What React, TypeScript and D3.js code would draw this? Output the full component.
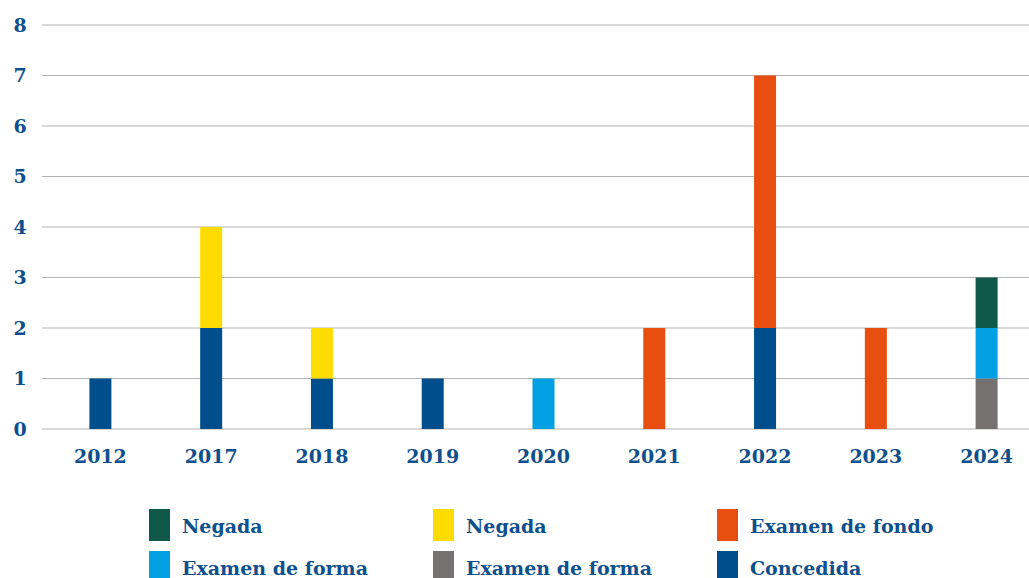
import React from "react";
import * as d3 from "d3";

const years = ["2012", "2017", "2018", "2019", "2020", "2021", "2022", "2023", "2024"];
const concedida = [1, 2, 1, 1, 0, 0, 2, 0, 0];
const formaGris = [0, 0, 0, 0, 0, 0, 0, 0, 1];
const formaAzul = [0, 0, 0, 0, 1, 0, 0, 0, 1];
const fondo = [0, 0, 0, 0, 0, 2, 5, 2, 0];
const negadaAmarilla = [0, 2, 1, 0, 0, 0, 0, 0, 0];
const negadaVerde = [0, 0, 0, 0, 0, 0, 0, 0, 1];
const yTicks = [0, 1, 2, 3, 4, 5, 6, 7, 8];

const series = [
  { key: "concedida", label: "Concedida", values: concedida, color: "#004f8c" },
  { key: "formaGris", label: "Examen de forma", values: formaGris, color: "#767171" },
  { key: "formaAzul", label: "Examen de forma", values: formaAzul, color: "#00a0e3" },
  { key: "fondo", label: "Examen de fondo", values: fondo, color: "#e84e10" },
  { key: "negadaAmarilla", label: "Negada", values: negadaAmarilla, color: "#ffdc00" },
  { key: "negadaVerde", label: "Negada", values: negadaVerde, color: "#10584a" },
];

const legendOrder = ["negadaVerde", "negadaAmarilla", "fondo", "formaAzul", "formaGris", "concedida"];

const W = 1029;
const H = 578;
const textColor = "#0e4f8d";
const font = "'DejaVu Serif', serif";

export default function App() {
  const rows = years.map((y, i) => {
    const r: any = { year: y };
    series.forEach((s) => (r[s.key] = s.values[i]));
    return r;
  });
  const stack = d3.stack().keys(series.map((s) => s.key))(rows as any);

  const x = d3.scaleBand().domain(years).range([45, 1042]).paddingInner(0.8).paddingOuter(0.4);
  const y = d3.scaleLinear().domain([0, 8]).range([429, 25]);
  const barW = 22;

  return (
    <svg width={W} height={H} style={{ position: "absolute", left: 0, top: 0, background: "#fff" }}>
      {yTicks.map((t) => (
        <g key={t}>
          <line x1={42} x2={W} y1={y(t)} y2={y(t)} stroke="#b3b3b3" strokeWidth={1.2} />
          <text x={20} y={y(t)} dy="0.35em" textAnchor="middle" fill={textColor} fontFamily={font} fontWeight="bold" fontSize={19}>
            {t}
          </text>
        </g>
      ))}
      {stack.map((layer, li) =>
        layer.map((d, i) => {
          if (d[1] - d[0] <= 0) return null;
          const cx = (x(years[i]) as number) + x.bandwidth() / 2;
          return (
            <rect
              key={series[li].key + i}
              x={cx - barW / 2}
              y={y(d[1])}
              width={barW}
              height={y(d[0]) - y(d[1])}
              fill={series[li].color}
            />
          );
        })
      )}
      {years.map((yr) => (
        <text
          key={yr}
          x={(x(yr) as number) + x.bandwidth() / 2}
          y={463}
          textAnchor="middle"
          fill={textColor}
          fontFamily={font}
          fontWeight="bold"
          fontSize={19}
        >
          {yr}
        </text>
      ))}
      {legendOrder.map((k, i) => {
        const s = series.find((q) => q.key === k)!;
        const col = i % 3;
        const row = Math.floor(i / 3);
        const lx = 149 + col * 284;
        const ly = 509 + row * 42;
        return (
          <g key={k}>
            <rect x={lx} y={ly} width={21} height={32} fill={s.color} />
            <text x={lx + 33} y={ly + 24} fill={textColor} fontFamily={font} fontWeight="bold" fontSize={19}>
              {s.label}
            </text>
          </g>
        );
      })}
    </svg>
  );
}
